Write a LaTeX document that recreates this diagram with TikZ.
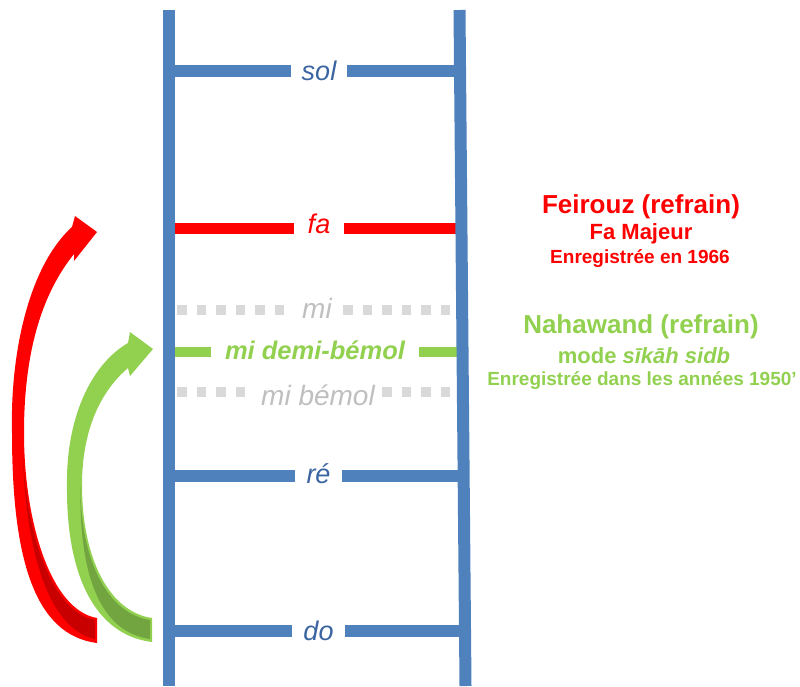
\documentclass[tikz,border=0pt]{standalone}
\usepackage{fontspec}
\setmainfont{Liberation Sans}
\usetikzlibrary{calc}
\definecolor{ladderblue}{HTML}{4F81BD}
\definecolor{labelblue}{HTML}{3B65A0}
\definecolor{fared}{HTML}{FF0000}
\definecolor{darkred}{HTML}{C80000}
\definecolor{migreen}{HTML}{92D050}
\definecolor{darkgreen}{HTML}{72A43F}
\definecolor{dotgray}{HTML}{D9D9D9}
\definecolor{textgray}{HTML}{BFBFBF}
\begin{document}
\begin{tikzpicture}[x=1pt,y=-1pt,
  rail/.style={line width=12pt, draw=ladderblue},
  rung/.style={line width=12pt, draw=ladderblue},
  farung/.style={line width=11pt, draw=fared},
  demirung/.style={line width=10pt, draw=migreen},
  dotrung/.style={line width=10pt, draw=dotgray, dash pattern=on 9.5pt off 10pt},
  lbl/.style={anchor=base, inner sep=0pt, inner xsep=11pt,
    font=\fontsize{27}{32}\selectfont\itshape, text=labelblue},
  grylbl/.style={anchor=base, inner sep=0pt,
    font=\fontsize{28}{32}\selectfont\itshape, text=textgray},
  info/.style={anchor=base, inner sep=0pt},
]
\useasboundingbox (0,0) rectangle (800,686);

% ---------- curved arrows ----------
\fill[fared] (72,227) .. controls (30,265) and (10,350) .. (12,433)
  .. controls (12,560) and (35,635) .. (97,643) -- (97,618)
  .. controls (50,610) and (24,520) .. (24,433)
  .. controls (24,345) and (45,290) .. (74,254)
  -- (74,261) -- (97,232) -- (75,216) -- cycle;
\fill[darkred] (22.5,435) .. controls (22.5,522) and (48.5,612) .. (95,620)
  -- (95,639) .. controls (45,628) and (23,540) .. (22.5,435) -- cycle;

\fill[migreen] (128,343) .. controls (90,365) and (66,420) .. (67,485)
  .. controls (66,575) and (95,635) .. (152,642) -- (152,618)
  .. controls (110,612) and (82,560) .. (82,485)
  .. controls (82,428) and (102,390) .. (128,368)
  -- (130,376) -- (153,349) -- (130,332) -- cycle;
\fill[darkgreen] (80.5,487) .. controls (80.5,562) and (108.5,614) .. (150,620)
  -- (150,639) .. controls (100,632) and (79,575) .. (80.5,487) -- cycle;

% ---------- rail coordinates ----------
\coordinate (LT) at (169,10);
\coordinate (LB) at (169,686);
\coordinate (RT) at (459.5,10);
\coordinate (RB) at (465.5,686);

\coordinate (Lsol) at (169,71);    \coordinate (Rsol) at (460.0,71);
\coordinate (Lfa) at (169,228.5);  \coordinate (Rfa) at (461.4,228.5);
\coordinate (Lmi) at (177,310);    \coordinate (Rmi) at (450,310);
\coordinate (Ldemi) at (169,352);  \coordinate (Rdemi) at (462.5,352);
\coordinate (Lmib) at (177,392);   \coordinate (Rmib) at (450,392);
\coordinate (Lre) at (169,475.5);  \coordinate (Rre) at (463.6,475.5);
\coordinate (Ldo) at (169,631);    \coordinate (Rdo) at (465.0,631);

% ---------- labels ----------
\node[lbl] (sol) at (319,80) {sol};
\node[lbl, inner xsep=14pt, text=fared] (fa) at (319,233.5) {fa};
\node[grylbl, inner xsep=9pt] (mi) at (317,318) {mi};
\node[lbl, inner xsep=14pt, text=migreen, font=\fontsize{25.5}{30}\selectfont\bfseries\itshape] (demi) at (315,359.7) {mi demi-bémol};
\node[grylbl, inner xsep=7.5pt] (mib) at (318,405) {mi bémol};
\node[lbl] (re) at (318.5,483) {ré};
\node[lbl] (do) at (318.5,640.7) {do};

% ---------- rungs ----------
\draw[rung] (Lsol) -- (sol.west |- Lsol);
\draw[rung] (Rsol) -- (sol.east |- Rsol);
\draw[farung] (Lfa) -- (fa.west |- Lfa);
\draw[farung] (Rfa) -- (fa.east |- Rfa);
\draw[dotrung] (Lmi) -- (mi.west |- Lmi);
\draw[dotrung] (Rmi) -- (mi.east |- Rmi);
\draw[demirung] (Ldemi) -- (demi.west |- Ldemi);
\draw[demirung] (Rdemi) -- (demi.east |- Rdemi);
\draw[dotrung] (Lmib) -- (mib.west |- Lmib);
\draw[dotrung] (Rmib) -- (mib.east |- Rmib);
\draw[rung] (Lre) -- (re.west |- Lre);
\draw[rung] (Rre) -- (re.east |- Rre);
\draw[rung] (Ldo) -- (do.west |- Ldo);
\draw[rung] (Rdo) -- (do.east |- Rdo);

% ---------- rails ----------
\draw[rail] (LT) -- (LB);
\draw[rail] (RT) -- (RB);

% ---------- side texts ----------
\node[info, text=fared, font=\fontsize{26}{30}\selectfont\bfseries] (feirouz) at (641,213) {Feirouz (refrain)};
\node[info, text=fared, font=\fontsize{22}{26}\selectfont\bfseries] (famaj) at (641,239) {Fa Majeur};
\node[info, text=fared, font=\fontsize{19}{22}\selectfont\bfseries] (enr1) at (640,263) {Enregistrée en 1966};
\node[info, text=migreen, font=\fontsize{26}{30}\selectfont\bfseries] (naha) at (641,333) {Nahawand (refrain)};
\node[info, text=migreen, font=\fontsize{22}{26}\selectfont\bfseries] (mode) at (644,363) {mode \textit{sīkāh sidb}};
\node[info, text=migreen, font=\fontsize{19}{22}\selectfont\bfseries] (enr2) at (642,385) {Enregistrée dans les années 1950’};
\end{tikzpicture}
\end{document}
